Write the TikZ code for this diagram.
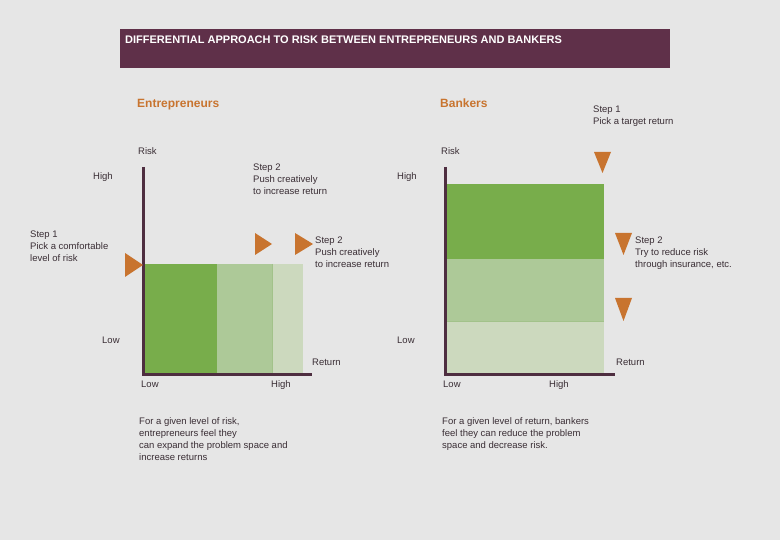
\documentclass[tikz,border=0pt]{standalone}
\usepackage{fontspec}
\setmainfont{Liberation Sans}
\usepackage{tikz}
\definecolor{bggrey}{HTML}{E6E6E6}
\definecolor{plum}{HTML}{5F3049}
\definecolor{axisplum}{HTML}{4E2E40}
\definecolor{textdark}{HTML}{3A2E35}
\definecolor{orangetri}{HTML}{C8742F}
\definecolor{greendark}{HTML}{78AD4B}
\definecolor{greenmid}{HTML}{ADC998}
\definecolor{greenedge}{HTML}{A2C28A}
\definecolor{greenlight}{HTML}{CCD9BE}
\tikzstyle{label_normal} = [anchor=north west, inner sep=0pt, align=left, text=textdark, font=\fontsize{9.5}{12}\selectfont]
\tikzstyle{label_single} = [anchor=base west, inner sep=0pt, text=textdark, font=\fontsize{9.5}{12}\selectfont]
\tikzstyle{label_head} = [anchor=base west, inner sep=0pt, text=orangetri, font=\fontsize{12}{14}\selectfont\bfseries]
\tikzstyle{axis_line} = [draw=axisplum, line width=3pt]
\tikzstyle{tri} = [fill=orangetri]

\begin{document}
\begin{tikzpicture}[x=1pt,y=-1pt]
\fill[bggrey] (0,0) rectangle (780,540);
\useasboundingbox (0,0) rectangle (780,540);

% title bar
\fill[plum] (120,29) rectangle (670,68);
\node (title) at (125,44) [anchor=base west, inner sep=0pt, text=white, font=\fontsize{11}{13}\selectfont\bfseries] {DIFFERENTIAL APPROACH TO RISK BETWEEN ENTREPRENEURS AND BANKERS};

\node (entre) at (137,108) [label_head] {Entrepreneurs};
\node (bank) at (440,108) [label_head] {Bankers};

% entrepreneurs chart
\fill[greenlight] (217,264) rectangle (303,373);
\fill[greenmid] (217,264) rectangle (273,373);
\draw[greenedge, line width=1pt] (272.5,264) -- (272.5,373);
\fill[greendark] (143,264) rectangle (217,373);
\coordinate (yL) at (143,167);
\coordinate (xL) at (312,374.5);
\draw[axis_line] (yL) |- (xL);

\fill[tri] (125,253) -- (143,265) -- (125,277) -- cycle;
\fill[tri] (255,233) -- (272,244) -- (255,255) -- cycle;
\fill[tri] (295,233) -- (313,244) -- (295,255) -- cycle;

\node (riskL) at (138,155) [label_single] {Risk};
\node (highL) at (93,180) [label_single] {High};
\node (lowL) at (102,344) [label_single] {Low};
\node (retL) at (312,366) [label_single] {Return};
\node (xlowL) at (141,388) [label_single] {Low};
\node (xhighL) at (271,388) [label_single] {High};
\node (stepA) at (253,164) [label_normal] {Step 2\\Push creatively\\to increase return};
\node (stepB) at (30,231) [label_normal] {Step 1\\Pick a comfortable\\level of risk};
\node (stepC) at (315,237) [label_normal] {Step 2\\Push creatively\\to increase return};
\node (noteL) at (139,417) [label_normal] {For a given level of risk,\\entrepreneurs feel they\\can expand the problem space and\\increase returns};

% bankers chart
\fill[greenlight] (447,322) rectangle (604,373);
\fill[greenmid] (447,259) rectangle (604,322);
\draw[greenedge, line width=1pt] (447,322) -- (604,322);
\fill[greendark] (447,184) rectangle (604,259);
\coordinate (yR) at (445.5,167);
\coordinate (xR) at (615,374.5);
\draw[axis_line] (yR) |- (xR);

\fill[tri] (594,152) -- (611,152) -- (602.5,173) -- cycle;
\fill[tri] (615,233) -- (632,233) -- (623.5,255) -- cycle;
\fill[tri] (615,298) -- (632,298) -- (623.5,321) -- cycle;

\node (riskR) at (441,155) [label_single] {Risk};
\node (highR) at (397,180) [label_single] {High};
\node (lowR) at (397,344) [label_single] {Low};
\node (retR) at (616,366) [label_single] {Return};
\node (xlowR) at (443,388) [label_single] {Low};
\node (xhighR) at (549,388) [label_single] {High};
\node (stepD) at (593,106) [label_normal] {Step 1\\Pick a target return};
\node (stepE) at (635,237) [label_normal] {Step 2\\Try to reduce risk\\through insurance, etc.};
\node (noteR) at (442,417) [label_normal] {For a given level of return, bankers\\feel they can reduce the problem\\space and decrease risk.};
\end{tikzpicture}
\end{document}
